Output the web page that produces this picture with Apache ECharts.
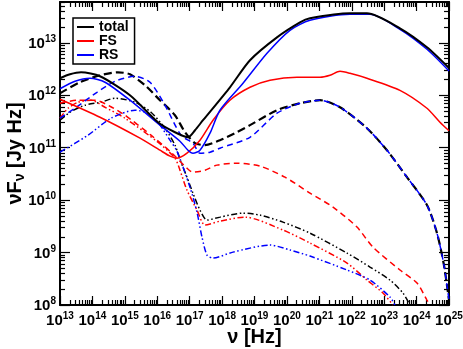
<!DOCTYPE html>
<html>
<head>
<meta charset="utf-8">
<script src="https://cdn.jsdelivr.net/npm/echarts@6/dist/echarts.min.js"></script>
<style>
  html, body { margin: 0; padding: 0; background: #fff; }
  #chart { width: 463px; height: 349px; }
</style>
</head>
<body>
<div id="chart"></div>
<script>
// decade ticks on each axis
var xTicks = [1e13, 1e14, 1e15, 1e16, 1e17, 1e18, 1e19, 1e20, 1e21, 1e22, 1e23, 1e24, 1e25];
var yTicks = [1e8, 1e9, 1e10, 1e11, 1e12, 1e13];
var yTop = 6e13;

// [nu (Hz), nuFnu (Jy Hz)]
var totalSolid = [[1e13,2.11e12],[2.03e13,2.51e12],[4.45e13,2.74e12],[1.71e14,2.30e12],[1.44e15,1.0e12],[1.05e16,3.06e11],[3.52e16,1.97e11],[8.87e16,1.58e11],[1.46e17,2.15e11],[2.58e17,3.34e11],[1.75e18,1.42e12],[7.26e18,4.65e12],[4.93e19,1.27e13],[2.53e20,2.45e13],[5.14e20,2.93e13],[8.81e21,3.65e13],[2.94e22,3.65e13],[3.07e23,1.89e13],[2.09e24,8.20e12],[1e25,3.3e12]];
var fsSolid = [[1e13,8.39e11],[1.71e14,3.81e11],[2.94e15,1.52e11],[1.21e16,8.95e10],[2.47e16,6.89e10],[4.06e16,6.31e10],[8.26e16,7.85e10],[2.08e17,1.39e11],[5.24e17,3.34e11],[1.75e18,8.04e11],[7.26e18,1.42e12],[3.01e19,1.93e12],[2.04e20,2.20e12],[1.05e21,2.20e12],[2.13e21,2.40e12],[4.34e21,2.86e12],[8.81e21,2.62e12],[2.94e22,2.11e12],[3.07e23,1.24e12],[2.09e24,5.65e11],[5.26e24,3.06e11],[1e25,2.1e11]];
var rsSolid = [[1e13,1.33e12],[2.90e13,1.85e12],[8.41e13,2.11e12],[2.44e14,1.77e12],[1.44e15,8.04e11],[1.21e16,2.69e11],[5.02e16,1.33e11],[8.87e16,8.95e10],[1.26e17,7.85e10],[2.08e17,8.95e10],[4.24e17,1.89e11],[8.61e17,5.18e11],[4.42e18,1.69e12],[2.43e19,6.31e12],[1.24e20,1.73e13],[5.14e20,2.69e13],[8.81e21,3.49e13],[3.65e22,3.49e13],[3.07e23,1.81e13],[2.09e24,7.52e12],[1e25,2.9e12]];

var totalDash = [[1e13,1.09e12],[4.14e13,1.77e12],[1.71e14,2.40e12],[6.15e14,2.74e12],[1.44e15,2.51e12],[4.19e15,1.55e12],[1.21e16,8.04e11],[3.52e16,4.16e11],[7.18e16,1.97e11],[1.46e17,1.22e11],[2.97e17,1.12e11],[8.61e17,1.39e11],[2.50e18,1.89e11],[7.26e18,2.69e11],[4.93e19,5.18e11],[2.53e20,7.05e11],[1.05e21,8.04e11],[4.34e21,5.90e11],[2.94e22,2.35e11],[1.22e23,8.95e10],[5.05e23,2.74e10],[2.09e24,8.04e9],[4.26e24,2.35e9],[6.98e24,5.78e8],[1e25,1.24e8]];
var fsDash = [[1e13,7.05e11],[3.59e13,8.04e11],[1.20e14,8.04e11],[3.48e14,6.17e11],[1.01e15,4.16e11],[6.41e15,1.73e11],[2.65e16,8.20e10],[8.26e16,4.07e10],[1.26e17,3.41e10],[2.97e17,3.72e10],[6.97e17,4.65e10],[2.88e18,5.07e10],[1.48e19,4.45e10],[8.71e19,2.74e10],[5.14e20,1.36e10],[2.64e21,7.36e9],[1.45e22,3.06e9],[4.51e22,1.27e9],[3.07e23,4.65e8],[1.03e24,2.62e8],[2.09e24,1.24e8],[2.59e24,1e8]];
var rsDash = [[1e13,3.65e11],[2.90e13,5.65e11],[1.38e14,1.14e12],[4.97e14,1.85e12],[2.06e15,2.30e12],[5.97e15,1.77e12],[1.73e16,6.46e11],[5.40e16,1.73e11],[1.26e17,1.22e11],[2.08e17,7.85e10],[4.24e17,8.20e10],[8.61e17,9.77e10],[7.26e18,1.58e11],[4.93e19,4.54e11],[2.53e20,7.05e11],[1.05e21,8.04e11],[4.34e21,5.90e11],[2.94e22,2.35e11],[1.22e23,8.95e10],[5.05e23,2.74e10],[2.09e24,8.04e9],[4.26e24,2.35e9],[6.98e24,5.78e8],[1e25,1.24e8]];

var totalDot = [[1e13,3.34e11],[2.03e13,4.74e11],[5.90e13,6.46e11],[1.84e14,7.36e11],[4.97e14,8.77e11],[2.06e15,7.36e11],[6.41e15,4.74e11],[1.73e16,2.35e11],[3.52e16,1.12e11],[5.40e16,5.30e10],[8.26e16,2.74e10],[1.26e17,1.36e10],[2.08e17,6.46e9],[3.42e17,4.16e9],[8.61e17,4.74e9],[4.42e18,5.65e9],[1.48e19,5.18e9],[7.55e19,3.81e9],[5.14e20,2.35e9],[7.13e21,9.77e8],[3.65e22,5.30e8],[1.51e23,2.99e8],[3.80e23,1.69e8],[6.25e23,1e8]];
var fsDot = [[1e13,3.65e11],[1.77e13,5.65e11],[3.59e13,7.36e11],[9.04e13,8.04e11],[2.44e14,5.90e11],[1.01e15,3.65e11],[1.05e16,1.27e11],[3.52e16,6.31e10],[5.02e16,3.72e10],[8.26e16,1.55e10],[1.68e17,6.46e9],[2.97e17,3.34e9],[8.61e17,3.98e9],[5.08e18,4.74e9],[7.55e19,2.69e9],[5.14e20,1.52e9],[7.13e21,6.31e8],[2.94e22,2.99e8],[9.18e22,1.69e8],[1.87e23,1e8]];
var rsDot = [[1e13,8.20e10],[7.31e13,1.73e11],[3.74e14,3.65e11],[2.06e15,5.18e11],[5.18e15,4.54e11],[1.21e16,2.69e11],[2.47e16,1.39e11],[4.06e16,8.57e10],[1.02e17,1.77e10],[1.68e17,5.90e9],[2.40e17,1.97e9],[3.42e17,8.95e8],[5.24e17,7.85e8],[2.17e18,1.02e9],[3.01e19,1.39e9],[1.24e20,1.12e9],[5.14e20,8.57e8],[7.13e21,4.65e8],[3.65e22,2.99e8],[1.51e23,1.42e8],[2.15e23,1e8]];

var FONT = '"Liberation Sans", Arial, sans-serif';
var dotDash = [6, 2.5, 1.5, 2.5, 1.5, 2.5];

function minorTicks(majors, top) {
    var out = [];
    majors.forEach(function (m) {
        for (var k = 2; k <= 9; k++) {
            if (m * k <= top) out.push(m * k);
        }
    });
    return out;
}

function powLabel(v) {
    return '{b|10}{e|' + Math.round(Math.log10(v)) + '}';
}

var labelRich = {
    b: { fontSize: 15, fontWeight: 'bold', fontFamily: FONT, color: '#000', verticalAlign: 'bottom' },
    e: { fontSize: 10, fontWeight: 'bold', fontFamily: FONT, color: '#000', verticalAlign: 'bottom', padding: [0, 0, 7, 0] }
};

function axis(pos, lo, hi, ticks, len, major) {
    return {
        type: 'log', min: lo, max: hi, position: pos,
        axisLine: { show: major, onZero: false, lineStyle: { color: '#000', width: 2 } },
        axisTick: { show: true, inside: true, length: len, customValues: ticks, lineStyle: { color: '#000', width: 1.2 } },
        axisLabel: { show: false },
        splitLine: { show: false }
    };
}

function line(name, data, color, width, dash) {
    return {
        name: name, type: 'line', data: data,
        showSymbol: false, symbol: 'none', smooth: 0.25,
        lineStyle: { color: color, width: width, type: dash },
        itemStyle: { color: color }
    };
}

var xMinor = minorTicks(xTicks, 1e25);
var yMinor = minorTicks(yTicks, yTop);

var xMain = axis('bottom', 1e13, 1e25, xTicks, 9, true);
xMain.axisLabel = { show: true, customValues: xTicks, margin: 6, formatter: powLabel, rich: labelRich, hideOverlap: false };
xMain.name = 'ν [Hz]';
xMain.nameLocation = 'middle';
xMain.nameGap = 22;
xMain.nameMoveOverlap = false;
xMain.nameTextStyle = { fontSize: 20, fontWeight: 'bold', fontFamily: FONT, color: '#000' };

var yMain = axis('left', 1e8, yTop, yTicks, 10, true);
yMain.axisLabel = { show: true, customValues: yTicks, margin: 4, formatter: powLabel, rich: labelRich };
yMain.name = 'νF{s|ν} [Jy Hz]';
yMain.nameLocation = 'middle';
yMain.nameGap = 33;
yMain.nameMoveOverlap = false;
yMain.nameTextStyle = { fontSize: 20, fontWeight: 'bold', fontFamily: FONT, color: '#000',
    rich: { s: { fontSize: 14, fontWeight: 'bold', fontFamily: FONT, color: '#000', padding: [10, 0, 0, 0] } } };

var chart = echarts.init(document.getElementById('chart'));
chart.setOption({
    animation: false,
    backgroundColor: '#fff',
    grid: { left: 60, right: 14, top: 2, bottom: 44, containLabel: false, outerBoundsMode: 'none' },
    legend: {
        data: ['total', 'FS', 'RS'],
        orient: 'vertical', left: 73, top: 18,
        icon: 'rect', itemWidth: 17, itemHeight: 2, itemGap: 0,
        borderColor: '#000', borderWidth: 1.5, borderRadius: 0,
        padding: [2, 6, 2, 4],
        textStyle: { fontSize: 14, fontWeight: 'bold', fontFamily: FONT, color: '#000', lineHeight: 14 }
    },
    xAxis: [
        xMain,
        axis('bottom', 1e13, 1e25, xMinor, 5, false),
        axis('top', 1e13, 1e25, xTicks, 9, true),
        axis('top', 1e13, 1e25, xMinor, 5, false)
    ],
    yAxis: [
        yMain,
        axis('left', 1e8, yTop, yMinor, 5, false),
        axis('right', 1e8, yTop, yTicks, 10, true),
        axis('right', 1e8, yTop, yMinor, 5, false)
    ],
    series: [
        line('total dash-dot', totalDot, '#000', 1.5, dotDash),
        line('FS dash-dot', fsDot, '#ff0000', 1.5, dotDash),
        line('RS dash-dot', rsDot, '#0000ff', 1.5, dotDash),
        line('FS dashed', fsDash, '#ff0000', 1.5, [6, 4]),
        line('total dashed', totalDash, '#000', 2.2, [8, 4]),
        line('RS dashed', rsDash, '#0000ff', 1.5, [6, 4]),
        line('FS', fsSolid, '#ff0000', 1.5, 'solid'),
        line('RS', rsSolid, '#0000ff', 1.5, 'solid'),
        line('total', totalSolid, '#000', 2, 'solid')
    ]
});
</script>
</body>
</html>
